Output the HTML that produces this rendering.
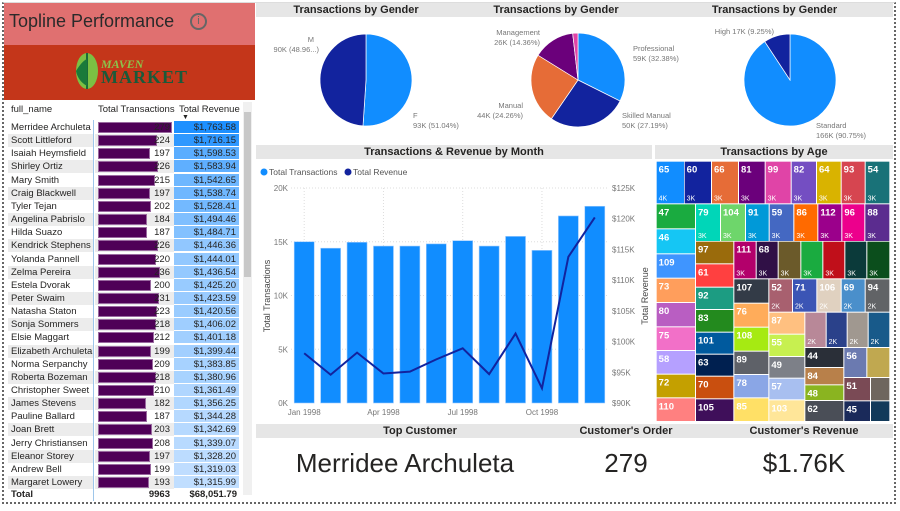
<!DOCTYPE html>
<html><head><meta charset="utf-8">
<style>
*{margin:0;padding:0;box-sizing:border-box}
body{width:900px;height:511px;background:#fff;font-family:"Liberation Sans",sans-serif;position:relative;overflow:hidden;color:#252423}
.abs{position:absolute}
.band{position:absolute;background:#e6e6e6;font-weight:bold;font-size:11px;text-align:center;color:#252423;line-height:14px}
.row{position:absolute;left:8px;width:232px;height:13px;font-size:9.5px;line-height:13px}
.kpi{position:absolute;top:448px;font-size:26px;text-align:center;color:#252423}
</style></head><body>
<div class="abs" style="left:2px;top:2px;width:894px;height:502px;border:2px dotted #666;border-top:1px solid #ddd"></div>

<div class="abs" style="left:4px;top:3px;width:251px;height:42px;background:#e07070;font-size:18px;line-height:36px;padding-left:5px;color:#2a2a2a">Topline Performance
<span style="position:absolute;left:186px;top:10px;width:17px;height:17px;border:2px solid #666;border-radius:50%;font-size:11px;line-height:13px;text-align:center;color:#666">i</span></div>
<div class="abs" style="left:4px;top:45px;width:251px;height:55px;background:#c4361a">
<svg class="abs" style="left:68px;top:6px" width="30" height="40"><ellipse cx="15" cy="20" rx="11" ry="18" fill="#7bc043"/><path d="M15 2 L15 38" stroke="#1a6b3a" stroke-width="2"/><path d="M4 20 Q10 10 15 8 L15 35 Q6 30 4 20Z" fill="#1a7a3a"/></svg>
<div class="abs" style="left:97px;top:12px;font-family:'Liberation Serif',serif;font-size:12px;font-style:italic;font-weight:bold;color:#8bc34a">MAVEN</div>
<div class="abs" style="left:97px;top:22px;font-family:'Liberation Serif',serif;font-size:18px;font-weight:bold;color:#1a5a3a;letter-spacing:1px">MARKET</div>
</div>

<div class="abs" style="left:4px;top:100px;width:251px;height:20px;font-size:9.5px;line-height:20px">
<span class="abs" style="left:7px">full_name</span><span class="abs" style="left:94px">Total Transactions</span><span class="abs" style="left:175px">Total Revenue</span>
<span class="abs" style="left:178px;top:8px;font-size:7px">▼</span></div>
<div class="abs" id="tbody"></div>
<div class="abs" style="left:243px;top:102px;width:9px;height:393px;background:#f0f0f0"><div style="margin-top:10px;height:165px;background:#c8c8c8;width:7px;margin-left:1px"></div></div>
<div class="abs" style="left:8px;top:488px;width:232px;height:13px;font-size:9.5px;font-weight:bold;line-height:13px">
<span class="abs" style="left:3px">Total</span><span class="abs" style="right:70px">9963</span><span class="abs" style="right:3px">$68,051.79</span></div>
<div class="abs" style="left:93px;top:120px;width:1px;height:381px;background:#9ec6ea"></div>

<div class="band" style="left:256px;top:3px;width:200px;height:14px">Transactions by Gender</div>
<div class="band" style="left:456px;top:3px;width:200px;height:14px">Transactions by Gender</div>
<div class="band" style="left:656px;top:3px;width:237px;height:14px">Transactions by Gender</div>
<svg class="abs" style="left:0;top:0" width="900" height="145" id="pies"></svg>

<div class="band" style="left:256px;top:145px;width:396px;height:14px">Transactions &amp; Revenue by Month</div>
<svg class="abs" style="left:0;top:0" width="900" height="430" id="combo"></svg>

<div class="band" style="left:655px;top:145px;width:238px;height:14px">Transactions by Age</div>
<svg class="abs" style="left:0;top:0" width="900" height="430" id="tree"></svg>

<div class="band" style="left:256px;top:424px;width:637px;height:14px"></div>
<div class="abs" style="left:330px;top:424px;width:180px;text-align:center;font-weight:bold;font-size:11px;line-height:14px">Top Customer</div>
<div class="abs" style="left:536px;top:424px;width:180px;text-align:center;font-weight:bold;font-size:11px;line-height:14px">Customer's Order</div>
<div class="abs" style="left:714px;top:424px;width:180px;text-align:center;font-weight:bold;font-size:11px;line-height:14px">Customer's Revenue</div>
<div class="kpi" style="left:280px;width:250px">Merridee Archuleta</div>
<div class="kpi" style="left:556px;width:140px">279</div>
<div class="kpi" style="left:724px;width:160px">$1.76K</div>

<script>
const NS="http://www.w3.org/2000/svg";
function mk(p,t,a){const e=document.createElementNS(NS,t);for(const k in a)e.setAttribute(k,a[k]);p.appendChild(e);return e;}
// ---- table ----
const custNames=["Merridee Archuleta","Scott Littleford","Isaiah Heymsfield","Shirley Ortiz","Mary Smith","Craig Blackwell","Tyler Tejan","Angelina Pabrislo","Hilda Suazo","Kendrick Stephens","Yolanda Pannell","Zelma Pereira","Estela Dvorak","Peter Swaim","Natasha Staton","Sonja Sommers","Elsie Maggart","Elizabeth Archuleta","Norma Serpanchy","Roberta Bozeman","Christopher Sweet","James Stevens","Pauline Ballard","Joan Brett","Jerry Christiansen","Eleanor Storey","Andrew Bell","Margaret Lowery"];
const custTrans=[279,224,197,226,215,197,202,184,187,226,220,236,200,231,223,218,212,199,209,218,210,182,187,203,208,197,199,193];
const custRev=[1763.58,1716.15,1598.53,1583.94,1542.65,1538.74,1528.41,1494.46,1484.71,1446.36,1444.01,1436.54,1425.20,1423.59,1420.56,1406.02,1401.18,1399.44,1383.85,1380.96,1361.49,1356.25,1344.28,1342.69,1339.07,1328.20,1319.03,1315.99];
const tb=document.getElementById('tbody');
const rmax=Math.max(...custRev),rmin=Math.min(...custRev);
custNames.forEach((n,i)=>{
 const r=document.createElement('div');r.className='row';r.style.top=(121+i*13.15)+'px';
 
 
 const bg=i%2?'#ececec':'#fff';
 const t=(custRev[i]-rmin)/(rmax-rmin);
 const c=`rgb(${Math.round(192-t*162)},${Math.round(222-t*78)},255)`;
 const w=74*custTrans[i]/280;
 r.innerHTML=`<div style="position:absolute;left:0;width:85px;height:13px;background:${bg};padding-left:3px;white-space:nowrap;overflow:hidden">${n}</div>`+
 `<div style="position:absolute;left:87px;width:79px;height:13px;background:${bg}"></div>`+
 `<div style="position:absolute;left:90px;top:1px;width:${w}px;height:11px;background:#4f0057;border:1px solid #9a6aa0"></div>`+
 `<div style="position:absolute;right:70px">${custTrans[i]}</div>`+
 `<div style="position:absolute;left:166px;width:65px;height:13px;background:${c};text-align:right;padding-right:3px;border-bottom:1px solid #fff">$${custRev[i].toLocaleString('en-US',{minimumFractionDigits:2})}</div>`;
 tb.appendChild(r);
});
// ---- pies ----
const pie1Labels=["F","M"],pie1Values=[51.04,48.96];
const pie2Labels=["Professional","Skilled Manual","Manual","Management","Other"],pie2Values=[32.38,27.19,24.26,14.36,1.81];
const pie3Labels=["Standard","High"],pie3Values=[90.75,9.25];
const pies=document.getElementById('pies');
function pie(cx,cy,r,vals,cols,name){
 const tot=vals.reduce((a,b)=>a+b,0);let a0=0;
 vals.forEach((v,i)=>{
  const a1=a0+v/tot*2*Math.PI;
  const x0=cx+r*Math.sin(a0),y0=cy-r*Math.cos(a0),x1=cx+r*Math.sin(a1),y1=cy-r*Math.cos(a1);
  const p=mk(pies,'path',{d:`M${cx},${cy}L${x0},${y0}A${r},${r} 0 ${a1-a0>Math.PI?1:0} 1 ${x1},${y1}Z`,fill:cols[i],stroke:'#fff','stroke-width':0.7});
  
  
  a0=a1;});
}
pie(366,80,46,pie1Values,['#118dff','#12239e'],'gender-pie');
pie(578,80,47,pie2Values,['#118dff','#12239e','#e66c37','#6b007b','#e044a7'],'occupation-pie');
pie(790,80,46,pie3Values,['#118dff','#12239e'],'membership-pie');
const lbls=[[314,42,'M','end'],[319,52,'90K (48.96...)','end'],[413,118,'F','start'],[413,128,`93K (${pie1Values[0]}%)`,'start'],
[540,35,'Management','end'],[540,45,`26K (${pie2Values[3]}%)`,'end'],[523,108,'Manual','end'],[523,118,`44K (${pie2Values[2]}%)`,'end'],
[633,51,'Professional','start'],[633,61,`59K (${pie2Values[0]}%)`,'start'],[622,118,'Skilled Manual','start'],[622,128,`50K (${pie2Values[1]}%)`,'start'],
[774,34,`High 17K (${pie3Values[1]}%)`,'end'],[816,128,'Standard','start'],[816,138,`166K (${pie3Values[0]}%)`,'start']];
lbls.forEach(l=>{const t=mk(pies,'text',{x:l[0],y:l[1],'text-anchor':l[3],'font-size':7.5,fill:'#777','font-family':'Liberation Sans'});t.textContent=l[2];
 
 });
// ---- combo ----
const months=["Jan 1998","Feb 1998","Mar 1998","Apr 1998","May 1998","Jun 1998","Jul 1998","Aug 1998","Sep 1998","Oct 1998","Nov 1998","Dec 1998"];
const transVals=[15000,14400,14950,14600,14600,14800,15100,14600,15500,14200,17400,18300];
const revVals=[98.1,94.6,98.2,94.8,95.1,97.1,98.9,94.7,101.3,92.4,113.8,120.2];
const leftTicks=[0,5000,10000,15000,20000],leftTickLabels=["0K","5K","10K","15K","20K"];
const rightTicks=[90,95,100,105,110,115,120,125],rightTickLabels=["$90K","$95K","$100K","$105K","$110K","$115K","$120K","$125K"];
const xTickIdx=[0,3,6,9];
const cb=document.getElementById('combo');
const X0=291,X1=608,Y0=403,Y1=188,step=(X1-X0)/months.length;
const xC=i=>X0+step*(i+0.5);
const yL=v=>Y0-(v/20000)*(Y0-Y1);
const yR=v=>Y0-((v-90)/35)*(Y0-Y1);
leftTicks.forEach((v,i)=>{
 if(v>0){const g=mk(cb,'line',{x1:X0,x2:X1,y1:yL(v),y2:yL(v),stroke:'#ddd','stroke-dasharray':'1,2'});}
 const t=mk(cb,'text',{x:288,y:yL(v)+3,'text-anchor':'end','font-size':8,fill:'#777'});t.textContent=leftTickLabels[i];
 });
rightTicks.forEach((v,i)=>{const t=mk(cb,'text',{x:612,y:yR(v)+3,'font-size':8,fill:'#777'});t.textContent=rightTickLabels[i];
 });
xTickIdx.forEach(i=>{const g=mk(cb,'line',{x1:xC(i),x2:xC(i),y1:Y1,y2:Y0,stroke:'#ddd','stroke-dasharray':'1,2'});
 const t=mk(cb,'text',{x:xC(i),y:415,'text-anchor':'middle','font-size':8,fill:'#777'});t.textContent=months[i].replace(' ','\u00a0');
 });
transVals.forEach((v,i)=>{const b=mk(cb,'rect',{x:xC(i)-10,y:yL(v),width:20,height:Y0-yL(v),fill:'#118dff',stroke:'#9ccaff','stroke-width':0.6});
 });
const ln=mk(cb,'polyline',{points:revVals.map((v,i)=>xC(i)+','+yR(v)).join(' '),fill:'none',stroke:'#12239e','stroke-width':2});

const at=mk(cb,'text',{x:0,y:0,'font-size':9,fill:'#444',transform:'translate(270,296) rotate(-90)','text-anchor':'middle'});at.textContent='Total Transactions';

const at2=mk(cb,'text',{x:0,y:0,'font-size':9,fill:'#444',transform:'translate(648,296) rotate(-90)','text-anchor':'middle'});at2.textContent='Total Revenue';

const lg1=mk(cb,'circle',{cx:264,cy:172,r:3.5,fill:'#118dff'});
const lt1=mk(cb,'text',{x:269,y:175,'font-size':8.5,fill:'#555'});lt1.textContent='Total Transactions';
const lg2=mk(cb,'circle',{cx:348,cy:172,r:3.5,fill:'#12239e'});
const lt2=mk(cb,'text',{x:353,y:175,'font-size':8.5,fill:'#555'});lt2.textContent='Total Revenue';
// ---- treemap ----
const ageLabels=["65","60","66","81","99","82","64","93","54","47","46","79","104","91","59","86","112","96","88","109","73","80","75","58","72","110","97","61","92","83","101","63","70","105","111","68","","","","","","107","52","71","106","69","94","76","108","89","78","85","87","55","49","57","103","","","","","44","84","48","62","56","","51","","45",""];
const ageValues=["4K","3K","3K","3K","3K","3K","3K","3K","3K","","","3K","3K","3K","3K","3K","3K","3K","3K","","","","","","","","","","","","","","","","3K","3K","3K","3K","3K","3K","3K","","2K","2K","2K","2K","2K","","","","","","","","","","","2K","2K","2K","2K","","","","","","","","","",""];
const cellColors=["#118dff","#12239e","#e66c37","#6b007b","#e044a7","#744ec2","#d9b300","#d64550","#197278","#1aab40","#15c6f4","#00d6b8","#6ed66b","#0099d8","#4468c2","#ff6a00","#9b008b","#ec008c","#5b2c8f","#3f95ff","#ff9e5c","#b95ec2","#f270c8","#b5a0ff","#c4a000","#ff8080","#9a6b0c","#ff4040","#1c9c82","#238a1e","#005a9e","#002050","#c94f0f","#3f0f5a","#b3006b","#301046","#6b5a2a","#1aab40","#c00f1a","#0b3a3a","#0b4e1c","#333b47","#a8606f","#3b55b5","#e0d1c0","#4a8fcb","#616366","#ffac5a","#a6ea12","#5e6168","#8aa6e6","#ffe066","#ffc080","#c7f050","#7d8088","#a8bff0","#ffe699","#b88898","#2a418a","#a09890","#185a8a","#2a2f38","#b8804a","#8ab420","#4a4e57","#6b7ab0","#c0a850","#7a4a55","#6e665e","#1a2a5a","#123a5a"];
const B=[[5,87,50,175],[89,168,50,175],[171,249,50,175],[252,329,50,175],[332,407,50,175],[410,483,50,175],[486,557,50,175],[560,629,50,175],[632,703,50,175],
[5,120,178,250],[5,120,253,325],[123,195,178,288],[198,270,178,288],[273,341,178,288],[344,415,178,288],[418,487,178,288],[490,559,178,288],[562,628,178,288],[631,703,178,288],
[5,120,328,398],[5,120,401,471],[5,120,474,544],[5,120,547,615],[5,120,618,686],[5,120,689,757],[5,120,760,828],
[123,235,290,355],[123,235,358,425],[123,235,428,492],[123,235,495,560],[123,235,563,626],[123,235,629,692],[123,235,695,760],[123,235,763,828],
[238,302,290,400],[305,368,290,400],[371,436,290,400],[439,502,290,400],[505,568,290,400],[571,634,290,400],[637,703,290,400],
[238,340,403,473],[343,411,403,500],[414,484,403,500],[487,557,403,500],[560,629,403,500],[632,703,403,500],
[238,340,476,545],[238,340,548,617],[238,340,620,687],[238,340,690,757],[238,340,760,828],
[343,448,503,566],[343,448,569,633],[343,448,636,698],[343,448,701,763],[343,448,766,828],
[451,512,503,606],[515,575,503,606],[578,638,503,606],[641,703,503,606],
[451,565,609,666],[451,565,669,718],[451,565,721,765],[451,565,768,828],
[568,634,609,696],[637,703,609,696],[568,645,699,766],[648,703,699,766],[568,645,769,828],[648,703,769,828]];
const tr=document.getElementById('tree');
B.forEach((b,i)=>{
 const x=655+b[0]/3,y=145+b[2]/3,w=(b[1]-b[0])/3,h=(b[3]-b[2])/3;
 const r=mk(tr,'rect',{x,y,width:w,height:h,fill:cellColors[i]});
 
 
 if(ageLabels[i]){const t=mk(tr,'text',{x:x+2,y:y+11,'font-size':9.5,fill:'#fff','font-weight':'bold'});t.textContent=ageLabels[i];}
 if(ageValues[i]){const t=mk(tr,'text',{x:x+2,y:y+h-3,'font-size':7,fill:'#fff'});t.textContent=ageValues[i];}
});
</script>
</body></html>
